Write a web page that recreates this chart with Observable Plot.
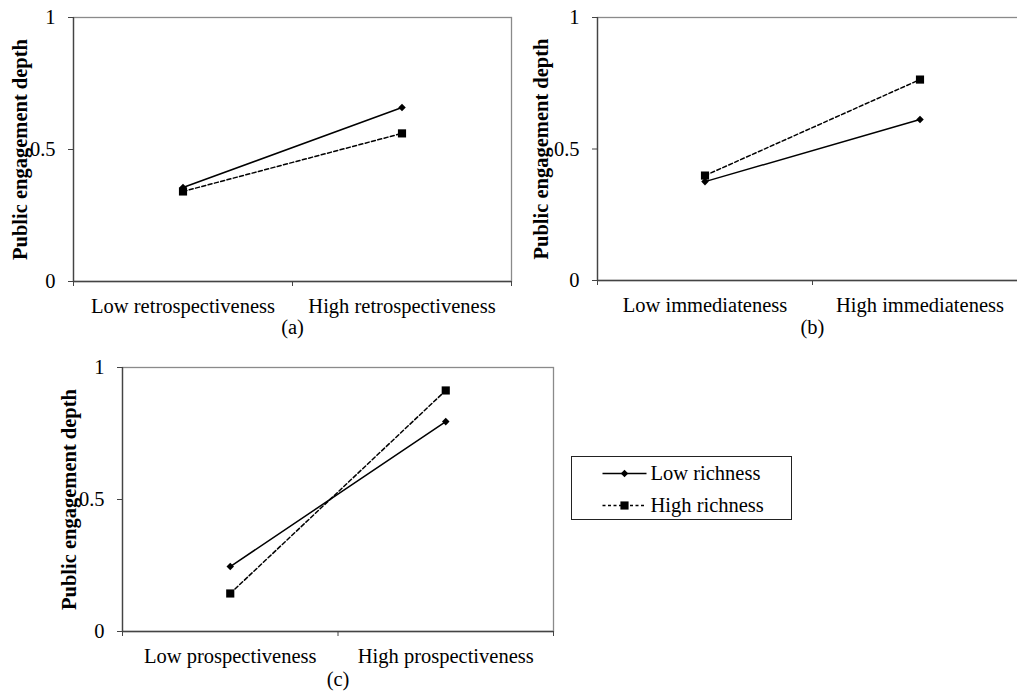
<!DOCTYPE html>
<html>
<head>
<meta charset="utf-8">
<script src="https://cdn.jsdelivr.net/npm/d3@7"></script>
<script src="https://cdn.jsdelivr.net/npm/@observablehq/plot@0.6"></script>
<style>
  html, body { margin: 0; padding: 0; background: #fff; }
  #page { position: relative; width: 1017px; height: 692px; overflow: hidden; background: #fff; }
  .panel { position: absolute; width: 520px; }
  .panel svg { overflow: visible; max-width: none !important; }
  g[aria-label="y-axis label"] { font-weight: bold; }
  #legend { position: absolute; left: 571px; top: 456px; width: 221px; height: 64px; border: 1px solid #222; box-sizing: border-box; }
  #legend svg { position: absolute; left: -1px; top: -1px; overflow: visible; max-width: none !important; }
</style>
</head>
<body>
<div id="page"></div>
<script>
// ---- data ----
const seriesNames = ["Low richness", "High richness"];
const yTitle = "Public engagement depth";
const yTicks = [0, 0.5, 1];
const captions = ["(a)", "(b)", "(c)"];

const catsA = ["Low retrospectiveness", "High retrospectiveness"];
const lowA = [0.356, 0.659];
const highA = [0.341, 0.561];

const catsB = ["Low immediateness", "High immediateness"];
const lowB = [0.376, 0.612];
const highB = [0.399, 0.764];

const catsC = ["Low prospectiveness", "High prospectiveness"];
const lowC = [0.246, 0.795];
const highC = [0.144, 0.913];

// ---- drawing ----
const page = document.getElementById("page");
const FONT = "'Liberation Serif', 'Times New Roman', serif";

function rowsOf(low, high) {
  const rows = [];
  low.forEach((v, i) => rows.push({series: seriesNames[0], x: i + 0.5, y: v}));
  high.forEach((v, i) => rows.push({series: seriesNames[1], x: i + 0.5, y: v}));
  return rows;
}

function panel({cats, low, high, caption, left, top, width, height, mt, mr, mb, ml, titleOffset, capOffset}) {
  const rows = rowsOf(low, high);
  const lowRows = rows.filter(d => d.series === seriesNames[0]);
  const highRows = rows.filter(d => d.series === seriesNames[1]);
  const boundaries = d3.range(cats.length + 1);
  const centers = cats.map((c, i) => i + 0.5);
  const chart = Plot.plot({
    width, height,
    marginTop: mt, marginRight: mr, marginBottom: mb, marginLeft: ml,
    style: {fontFamily: FONT, fontSize: "20.5px", color: "#000", background: "transparent", overflow: "visible"},
    x: {domain: [0, cats.length]},
    y: {domain: [0, 1]},
    marks: [
      Plot.frame({stroke: "#8a8a8a", strokeWidth: 1.3}),
      Plot.axisY(yTicks, {tickSize: 5, tickPadding: 13, tickFormat: d => String(d), stroke: "#444",
        label: yTitle, labelAnchor: "center", labelOffset: titleOffset, labelArrow: "none"}),
      Plot.axisX(boundaries, {tickSize: 5, tickFormat: () => "", stroke: "#444", label: null}),
      Plot.axisX(centers, {tickSize: 0, tickPadding: 17, tickFormat: d => cats[Math.floor(d)],
        label: caption, labelAnchor: "center", labelOffset: capOffset, labelArrow: "none"}),
      Plot.ruleX([0], {stroke: "#444", strokeWidth: 1.3}),
      Plot.ruleY([0], {stroke: "#444", strokeWidth: 1.3}),
      Plot.line(highRows, {x: "x", y: "y", stroke: "#000", strokeWidth: 1.5, strokeDasharray: "4,2.5"}),
      Plot.line(lowRows, {x: "x", y: "y", stroke: "#000", strokeWidth: 1.5}),
      Plot.dot(highRows, {x: "x", y: "y", symbol: "square", r: 4.6, fill: "#000", stroke: "none"}),
      Plot.dot(lowRows, {x: "x", y: "y", symbol: "diamond2", r: 3.4, fill: "#000", stroke: "none"})
    ]
  });
  const div = document.createElement("div");
  div.className = "panel";
  div.style.left = left + "px";
  div.style.top = top + "px";
  div.appendChild(chart);
  page.appendChild(div);
}

panel({cats: catsA, low: lowA, high: highA, caption: captions[0], left: 0, top: 0, width: 520, height: 345,
  mt: 17, mr: 9, mb: 64, ml: 73, titleOffset: 61, capOffset: 52});
panel({cats: catsB, low: lowB, high: highB, caption: captions[1], left: 520, top: 0, width: 520, height: 345,
  mt: 17, mr: 13, mb: 65, ml: 77, titleOffset: 64, capOffset: 53});
panel({cats: catsC, low: lowC, high: highC, caption: captions[2], left: 40, top: 350, width: 520, height: 342,
  mt: 17, mr: 7, mb: 61, ml: 82, titleOffset: 61, capOffset: 54});

// ---- legend ----
const legendRows = seriesNames.map(s => ({series: s}));
const legend = Plot.plot({
  width: 221, height: 64,
  marginTop: 17, marginBottom: 15, marginLeft: 31, marginRight: 146,
  style: {fontFamily: FONT, fontSize: "20.5px", color: "#000", background: "transparent", overflow: "visible"},
  x: {domain: [0, 1], axis: null},
  y: {type: "point", domain: seriesNames, padding: 0, axis: null},
  marks: [
    Plot.link(legendRows.filter(d => d.series === seriesNames[0]), {x1: 0, x2: 1, y1: "series", y2: "series", stroke: "#000", strokeWidth: 1.5}),
    Plot.link(legendRows.filter(d => d.series === seriesNames[1]), {x1: 0, x2: 1, y1: "series", y2: "series", stroke: "#000", strokeWidth: 1.5, strokeDasharray: "3,2.5"}),
    Plot.dot(legendRows.filter(d => d.series === seriesNames[0]), {x: 0.5, y: "series", symbol: "diamond2", r: 3.4, fill: "#000", stroke: "none"}),
    Plot.dot(legendRows.filter(d => d.series === seriesNames[1]), {x: 0.5, y: "series", symbol: "square", r: 4.6, fill: "#000", stroke: "none"}),
    Plot.text(legendRows, {x: 1, y: "series", text: "series", textAnchor: "start", dx: 4, fill: "#000"})
  ]
});
const legDiv = document.createElement("div");
legDiv.id = "legend";
legDiv.appendChild(legend);
page.appendChild(legDiv);
</script>
</body>
</html>
